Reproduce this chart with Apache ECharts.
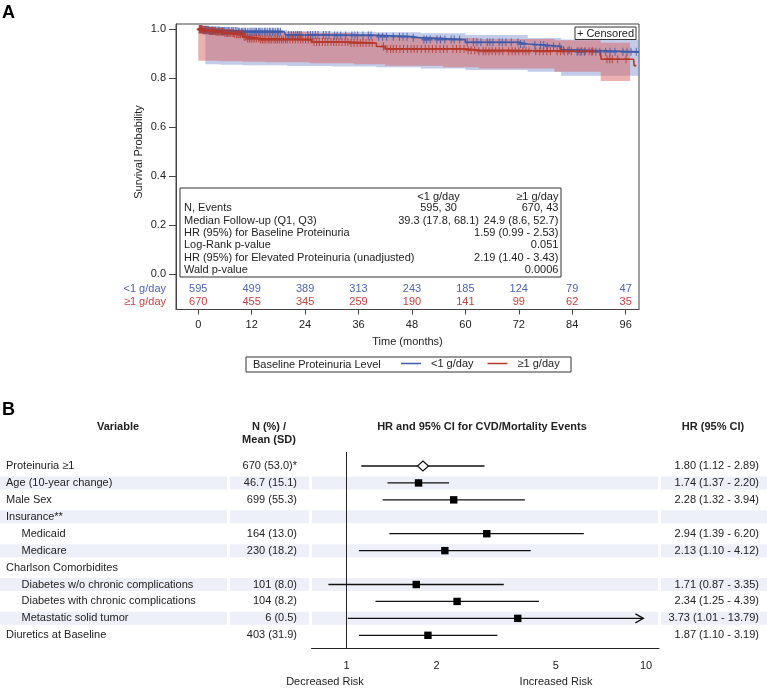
<!DOCTYPE html>
<html><head><meta charset="utf-8">
<script src="https://cdn.jsdelivr.net/npm/echarts@6/dist/echarts.min.js"></script>
<style>html,body{margin:0;padding:0;background:#fff}#c{width:767px;height:688px}</style>
</head><body><div id="c"></div>
<script>
const FONT = "'Liberation Sans', Arial, Helvetica, sans-serif";

// ---------- Panel A data ----------
const monthTicks = [0, 12, 24, 36, 48, 60, 72, 84, 96];
const survTicks = [0, 0.2, 0.4, 0.6, 0.8, 1.0];
const groups = ['<1 g/day', '≥1 g/day'];

// Kaplan-Meier steps [time, survival]
const kmLow = [[0,1],[0.8,0.998],[2.5,0.995],[5,0.993],[9,0.99],[19.3,0.985],[19.6,0.977],[30,0.975],[40,0.97],[48,0.966],[49.5,0.958],[60,0.947],[72,0.94],[74,0.936],[78,0.93],[81.5,0.916],[84,0.908],[99,0.908]];
const kmHigh = [[0,1],[1,0.996],[2.5,0.993],[4,0.99],[6,0.985],[8,0.98],[10,0.97],[11,0.962],[14,0.958],[25.5,0.948],[34,0.944],[40,0.93],[42,0.92],[60,0.915],[63,0.91],[90.3,0.906],[90.5,0.878],[97.8,0.878],[97.9,0.852],[98.4,0.852]];

// confidence bands [time, lower, upper]
const bandLow = [[1.6,0.857,1.0],[5,0.855,0.999],[10,0.853,0.997],[20,0.85,0.992],[30,0.848,0.99],[40,0.845,0.988],[50,0.84,0.984],[60,0.834,0.977],[74,0.827,0.965],[81.5,0.81,0.958],[99,0.81,0.958]];
const bandHigh = [[0,0.872,1.0],[5,0.87,0.998],[10,0.868,0.993],[15,0.866,0.99],[25,0.862,0.985],[35,0.857,0.98],[42,0.851,0.97],[55,0.845,0.965],[63,0.84,0.96],[80,0.827,0.955],[90.4,0.789,0.945],[97,0.789,0.945]];

// censoring times (months)
const censorLow = [0.3,0.5,0.7,0.9,1.1,1.4,1.6,1.8,2,2.3,2.5,2.8,3,3.2,3.4,3.7,3.9,4.2,4.5,4.8,5.1,5.4,5.6,5.9,6.2,6.5,6.8,7.1,7.5,7.8,8,8.4,8.7,9,9.3,9.7,10,10.3,10.6,11,11.4,11.8,12.1,12.5,12.8,13.1,13.5,13.8,14.1,14.5,14.9,15.2,15.6,16,16.3,16.7,17,17.4,17.8,18.1,18.5,20.3,20.9,21.4,21.9,22.3,22.7,23.1,24.6,25.2,25.7,26.3,26.9,28.1,28.7,29.4,30.6,31.2,32,33.1,34.5,35.2,35.8,37,38.2,38.8,40.5,41.4,42.3,43.8,45.2,46,46.9,48.3,50.7,51.3,52.1,53.6,54.4,55.4,56.8,57.5,58.7,60.4,61.8,62.6,63.5,64.9,65.5,66.2,67.6,68.3,69.1,70.3,71.8,72.4,73.2,75.6,76.9,77.6,78.4,79.8,81.2,82,83.3,85.1,85.8,86.7,88.4,89.3,90.2,91.5,92.5,93.6,95.4,96.3,97.2,98.4];
const censorHigh = [0.2,0.4,0.5,0.7,0.9,1.1,1.3,1.5,1.7,2,2.2,2.5,2.7,3,3.2,3.5,3.7,4,4.3,4.6,4.9,5.2,5.4,5.7,6,6.3,6.6,6.9,7.2,7.6,7.9,8.2,8.6,8.9,9.2,9.5,9.9,10.3,10.7,11.1,11.5,11.9,12.3,12.7,13.1,13.6,14,14.4,14.8,15.2,15.7,16.1,16.5,17,17.4,17.8,18.2,18.7,19.1,19.6,20,20.6,21.2,21.8,22.4,23,23.5,24.1,24.7,25.3,26,26.6,27.2,27.9,28.5,29.1,29.8,30.4,31,31.6,32.3,33,33.6,34.3,35,35.7,36.4,37,37.7,38.4,39.1,41.6,42.4,43.2,43.8,44.5,45.3,46.1,47,47.8,48.5,49.2,50.1,51,51.8,52.6,53.4,54.3,55.1,55.9,57.2,58,58.8,59.7,60.6,61.3,62.1,63,64,64.6,65.3,66,66.8,67.6,68.4,69.7,70.5,71.2,72,72.9,73.6,74.3,75.8,76.7,77.5,78.3,79.1,80.6,81.4,82.2,83,83.8,85.3,86.1,86.9,87.8,88.6,91.8,92.4,93,94.2,96.1];

// numbers at risk
const atRiskLow = [595, 499, 389, 313, 243, 185, 124, 79, 47];
const atRiskHigh = [670, 455, 345, 259, 190, 141, 99, 62, 35];

// statistics table
const statLabels = ['N, Events','Median Follow-up (Q1, Q3)','HR (95%) for Baseline Proteinuria','Log-Rank p-value','HR (95%) for Elevated Proteinuria (unadjusted)','Wald p-value'];
const statColLow = ['595, 30','39.3 (17.8, 68.1)','','','',''];
const statColHigh = ['670, 43','24.9 (8.6, 52.7)','1.59 (0.99 - 2.53)','0.051','2.19 (1.40 - 3.43)','0.0006'];

// ---------- Panel B data ----------
const variables = ['Proteinuria ≥1','Age (10-year change)','Male Sex','Insurance**','Medicaid','Medicare','Charlson Comorbidites','Diabetes w/o chronic complications','Diabetes with chronic complications','Metastatic solid tumor','Diuretics at Baseline'];
const indented = [0,0,0,0,1,1,0,1,1,1,0];
const nMean = ['670 (53.0)*','46.7 (15.1)','699 (55.3)','','164 (13.0)','230 (18.2)','','101 (8.0)','104 (8.2)','6 (0.5)','403 (31.9)'];
const hr   = [1.80,1.74,2.28,null,2.94,2.13,null,1.71,2.34,3.73,1.87];
const ciLo = [1.12,1.37,1.32,null,1.39,1.10,null,0.87,1.25,1.01,1.10];
const ciHi = [2.89,2.20,3.94,null,6.20,4.12,null,3.35,4.39,13.79,3.19];
const forestTicks = [1, 2, 5, 10];

// ---------- styles ----------
const BLUE = '#3f5bab', RED = '#b5382c', BLUE_T = '#4c64b6', RED_T = '#c8423c';
const BAND_COLORS = ['rgba(120,140,205,0.45)', 'rgba(215,100,100,0.5)'];
const INK = '#222';
const ARROW_CAP = 9.8;
const BAND_FILL = '#edf0f8';
const BAND_SEGS = [[0,227],[230,309],[312,658],[661,767]];

function survAt(curve, t) {
  let v = curve[0][1];
  for (const p of curve) { if (p[0] <= t) v = p[1]; else break; }
  return v;
}
const fmt2 = v => v.toFixed(2);

const chart = echarts.init(document.getElementById('c'), null, {renderer: 'canvas'});

const T = (text, x, y, opts) => ({type: 'text', x, y, z: 10, style: Object.assign({text, fill: INK, fontSize: 11, fontFamily: FONT, align: 'left', verticalAlign: 'middle'}, opts || {})});

const graphics = [
  T('A', 2, 13, {fontSize: 18, fontWeight: 'bold', fill: '#000'}),
  T('B', 2, 410, {fontSize: 18, fontWeight: 'bold', fill: '#000'}),
  {type: 'text', x: 139, y: 152, rotation: Math.PI / 2, style: {text: 'Survival Probability', fill: INK, fontSize: 11, fontFamily: FONT, align: 'center', verticalAlign: 'middle'}},
  // censored legend box
  {type: 'rect', z: 9, shape: {x: 575, y: 27, width: 61, height: 12.5}, style: {fill: '#fff', stroke: '#333', lineWidth: 1}},
  T('+ Censored', 605.5, 33.5, {align: 'center'}),
  // stats box
  {type: 'rect', z: 9, shape: {x: 180, y: 188, width: 381, height: 89}, style: {fill: '#fff', stroke: '#333', lineWidth: 1}},
  T(groups[0], 438.6, 196.7, {align: 'center'}),
  T(groups[1], 558.4, 196.7, {align: 'right'}),
  // bottom legend frame (behind the legend component)
  {type: 'rect', z: 0, shape: {x: 246, y: 357, width: 325, height: 15}, style: {fill: '#fff', stroke: '#333', lineWidth: 1}},
  T('Baseline Proteinuria Level', 253, 364.5),
  // Panel B headers
  T('Variable', 118, 427, {align: 'center', fontWeight: 'bold'}),
  T('N (%) /', 269, 427, {align: 'center', fontWeight: 'bold'}),
  T('Mean (SD)', 269, 440, {align: 'center', fontWeight: 'bold'}),
  T('HR and 95% CI for CVD/Mortality Events', 482, 427, {align: 'center', fontWeight: 'bold'}),
  T('HR (95% CI)', 713, 427, {align: 'center', fontWeight: 'bold'}),
  T('Decreased Risk', 325, 682, {align: 'center'}),
  T('Increased Risk', 556, 682, {align: 'center'})
];
statLabels.forEach((s, i) => {
  const y = 208.3 + i * 12.35;
  graphics.push(T(s, 184, y));
  if (statColLow[i]) graphics.push(T(statColLow[i], 438.6, y, {align: 'center'}));
  if (statColHigh[i]) graphics.push(T(statColHigh[i], 558.4, y, {align: 'right'}));
});

const atRiskData = [];
monthTicks.forEach((t, i) => { atRiskData.push([t, 0, atRiskLow[i]]); atRiskData.push([t, 1, atRiskHigh[i]]); });

const forestData = [];
hr.forEach((h, i) => { if (h != null) forestData.push([h, i, ciLo[i], ciHi[i], i === 0 ? 1 : 0]); });

const bands = [bandLow, bandHigh];

const option = {
  animation: false,
  textStyle: {fontFamily: FONT},
  grid: [
    {left: 176, top: 24, width: 463, height: 285.5, show: true, borderColor: '#444', borderWidth: 1, backgroundColor: 'transparent'},
    {left: 176, top: 283, width: 463, height: 25},
    {left: 311.5, top: 452, width: 347.5, height: 196},
    {left: 0, top: 452, width: 767, height: 196}
  ],
  xAxis: [
    {gridIndex: 0, type: 'value', min: -5, max: 99,
      axisLine: {show: true, onZero: false, lineStyle: {color: '#444'}},
      axisTick: {show: true, customValues: monthTicks, length: 5, lineStyle: {color: '#444'}},
      axisLabel: {customValues: monthTicks, fontSize: 11, color: INK, margin: 10},
      splitLine: {show: false},
      name: 'Time (months)', nameLocation: 'middle', nameGap: 27, nameTextStyle: {fontSize: 11, color: INK}},
    {gridIndex: 1, type: 'value', min: -5, max: 99, show: false},
    {gridIndex: 2, type: 'log', logBase: 10, min: 0.764, max: 11.05,
      axisLine: {show: true, onZero: false, lineStyle: {color: INK, width: 1}},
      axisTick: {show: false},
      axisLabel: {customValues: forestTicks, fontSize: 11, color: INK, margin: 12},
      splitLine: {show: false}},
    {gridIndex: 3, type: 'value', min: 0, max: 767, show: false}
  ],
  yAxis: [
    {gridIndex: 0, type: 'value', min: -0.143, max: 1.0216,
      axisLine: {show: true, onZero: false, lineStyle: {color: '#444'}},
      axisTick: {show: true, customValues: survTicks, length: 7, lineStyle: {color: '#444'}},
      axisLabel: {customValues: survTicks, formatter: v => v.toFixed(1), fontSize: 11, color: INK, margin: 10},
      splitLine: {show: false}},
    {gridIndex: 1, type: 'category', data: groups, inverse: true,
      axisLine: {show: false}, axisTick: {show: false},
      axisLabel: {fontSize: 11, margin: 10, interval: 0, hideOverlap: false, color: (v, i) => (i === 0 ? BLUE_T : RED_T)}},
    {gridIndex: 2, type: 'value', min: -0.827, max: 10.75, inverse: true, show: false},
    {gridIndex: 3, type: 'value', min: -0.827, max: 10.75, inverse: true, show: false}
  ],
  legend: {
    data: groups, left: 401, top: 358, padding: 0, z: 5, itemWidth: 20, itemHeight: 1.5, icon: 'rect', itemGap: 14,
    textStyle: {fontSize: 11, color: INK, padding: [0, 0, 0, 5]}, selectedMode: false
  },
  graphic: graphics,
  series: [
    // confidence bands (one stepped polygon per group)
    {type: 'custom', xAxisIndex: 0, yAxisIndex: 0, silent: true, z: 1, clip: true,
      data: bands.map(b => [b[0][0], b[0][1]]), encode: {x: 0, y: 1},
      renderItem: (params, api) => {
        const b = bands[params.dataIndex];
        const up = [], dn = [];
        for (let i = 0; i < b.length; i++) {
          const t0 = b[i][0], t1 = i + 1 < b.length ? b[i + 1][0] : b[i][0];
          up.push(api.coord([t0, b[i][2]]), api.coord([t1, b[i][2]]));
          dn.push(api.coord([t0, b[i][1]]), api.coord([t1, b[i][1]]));
        }
        return {type: 'polygon', shape: {points: up.concat(dn.reverse())}, style: {fill: BAND_COLORS[params.dataIndex]}};
      }},
    // KM curves
    {type: 'line', name: groups[0], xAxisIndex: 0, yAxisIndex: 0, step: 'end', symbol: 'none', z: 3,
      data: kmLow, lineStyle: {color: BLUE, width: 1.6}, itemStyle: {color: BLUE}},
    {type: 'line', name: groups[1], xAxisIndex: 0, yAxisIndex: 0, step: 'end', symbol: 'none', z: 3,
      data: kmHigh, lineStyle: {color: RED, width: 1.6}, itemStyle: {color: RED}},
    // censor marks
    {type: 'scatter', xAxisIndex: 0, yAxisIndex: 0, z: 4, silent: true,
      data: censorLow.map(t => [t, survAt(kmLow, t)]),
      symbol: 'path://M3,0L3,8M0,4L6,4', symbolSize: [5, 8],
      itemStyle: {color: 'rgba(0,0,0,0)', borderColor: BLUE, borderWidth: 1.4}},
    {type: 'scatter', xAxisIndex: 0, yAxisIndex: 0, z: 4, silent: true,
      data: censorHigh.map(t => [t, survAt(kmHigh, t)]),
      symbol: 'path://M3,0L3,8M0,4L6,4', symbolSize: [5, 8],
      itemStyle: {color: 'rgba(0,0,0,0)', borderColor: RED, borderWidth: 1.4}},
    // numbers at risk
    {type: 'custom', xAxisIndex: 1, yAxisIndex: 1, silent: true, data: atRiskData,
      encode: {x: 0, y: 1},
      renderItem: (params, api) => {
        const p = api.coord([api.value(0), api.value(1)]);
        return {type: 'text', x: p[0], y: p[1], style: {text: String(api.value(2)), fill: api.value(1) === 0 ? BLUE_T : RED_T, fontSize: 11, fontFamily: FONT, align: 'center', verticalAlign: 'middle'}};
      }},
    // Panel B: table rows (bands + text)
    {type: 'custom', xAxisIndex: 3, yAxisIndex: 3, silent: true, z: 1, clip: false,
      data: variables.map((v, i) => [0, i]), encode: {x: 0, y: 1},
      renderItem: (params, api) => {
        const i = params.dataIndex;
        const y = api.coord([0, api.value(1)])[1];
        const ch = [];
        if (i % 2 === 1) BAND_SEGS.forEach(s => ch.push({type: 'rect', shape: {x: s[0], y: y - 6.5, width: s[1] - s[0], height: 13}, style: {fill: BAND_FILL}}));
        ch.push({type: 'text', x: indented[i] ? 21.5 : 6, y, style: {text: variables[i], fill: INK, fontSize: 11, fontFamily: FONT, align: 'left', verticalAlign: 'middle'}});
        if (nMean[i]) ch.push({type: 'text', x: 297, y, style: {text: nMean[i], fill: INK, fontSize: 11, fontFamily: FONT, align: 'right', verticalAlign: 'middle'}});
        if (hr[i] != null) ch.push({type: 'text', x: 759, y, style: {text: fmt2(hr[i]) + ' (' + fmt2(ciLo[i]) + ' - ' + fmt2(ciHi[i]) + ')', fill: INK, fontSize: 11, fontFamily: FONT, align: 'right', verticalAlign: 'middle'}});
        return {type: 'group', children: ch};
      }},
    // reference line at HR = 1
    {type: 'custom', xAxisIndex: 2, yAxisIndex: 2, silent: true, z: 3, clip: false,
      data: [[1, 0]], encode: {x: 0, y: 1},
      renderItem: (params, api) => {
        const x = api.coord([api.value(0), 0])[0];
        const cs = params.coordSys;
        return {type: 'line', shape: {x1: x, y1: cs.y, x2: x, y2: cs.y + cs.height}, style: {stroke: INK, lineWidth: 1}};
      }},
    // forest markers
    {type: 'custom', xAxisIndex: 2, yAxisIndex: 2, silent: true, z: 4, clip: false,
      data: forestData, encode: {x: 0, y: 1},
      renderItem: (params, api) => {
        const h = api.value(0), row = api.value(1), lo = api.value(2), hi = api.value(3), diamond = api.value(4);
        const top = Math.min(hi, ARROW_CAP);
        const pH = api.coord([h, row]), pL = api.coord([lo, row]), pU = api.coord([top, row]);
        const y = pH[1];
        const ch = [{type: 'line', shape: {x1: pL[0], y1: y, x2: pU[0], y2: y}, style: {stroke: '#111', lineWidth: 1.3}}];
        if (hi > ARROW_CAP) ch.push({type: 'polyline', shape: {points: [[pU[0] - 8, y - 4.5], [pU[0], y], [pU[0] - 8, y + 4.5]]}, style: {stroke: '#111', fill: 'none', lineWidth: 1.3}});
        if (diamond) ch.push({type: 'polygon', shape: {points: [[pH[0], y - 5], [pH[0] + 5.5, y], [pH[0], y + 5], [pH[0] - 5.5, y]]}, style: {fill: '#fff', stroke: '#111', lineWidth: 1.2}});
        else ch.push({type: 'rect', shape: {x: pH[0] - 3.7, y: y - 3.7, width: 7.4, height: 7.4}, style: {fill: '#000'}});
        return {type: 'group', children: ch};
      }}
  ]
};
chart.setOption(option);
</script></body></html>
